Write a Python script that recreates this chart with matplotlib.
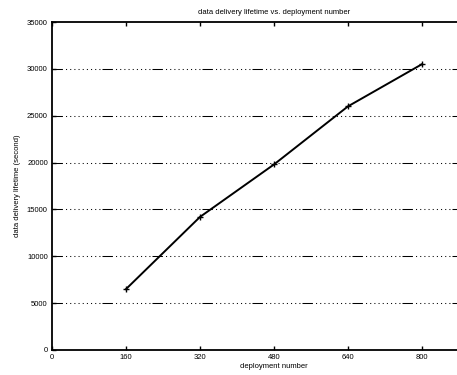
import numpy as np
import matplotlib.pyplot as plt

deployment = [160, 320, 480, 640, 800]
lifetime = [6500, 14200, 19800, 26000, 30500]
xticks = [0, 160, 320, 480, 640, 800]
yticks = [0, 5000, 10000, 15000, 20000, 25000, 30000, 35000]

plt.rcParams['font.family'] = ['Liberation Sans', 'DejaVu Sans']

fig = plt.figure(figsize=(4.57, 3.75), dpi=100)
# axes runs past the right edge of the picture, as in the cropped original
ax = fig.add_axes([52/457, 25/375, 444/457, 328/375])

grid_dash = [10, 3] + [1, 3] * 8 + [1, 2]
for y in yticks[1:-1]:
    ax.axhline(y, color='black', lw=0.75, dashes=grid_dash, zorder=1)

ax.plot(deployment, lifetime, color='black', lw=1.4, marker='+', ms=5, mew=1.0, zorder=3)

ax.set_xlim(0, 960)
ax.set_ylim(0, 35000)
ax.set_xticks(xticks)
ax.set_yticks(yticks)
ax.tick_params(direction='in', length=3, width=1, labelsize=5.5, top=True, right=False, pad=3)
for s in ax.spines.values():
    s.set_linewidth(1.3)

ax.set_title("data delivery lifetime vs. deployment number", fontsize=5.5, pad=6)
ax.set_xlabel("deployment number", fontsize=5.5, labelpad=1)
ax.set_ylabel("data delivery lifetime (second)", fontsize=5.5, labelpad=4)

plt.savefig("out.png", dpi=100)
